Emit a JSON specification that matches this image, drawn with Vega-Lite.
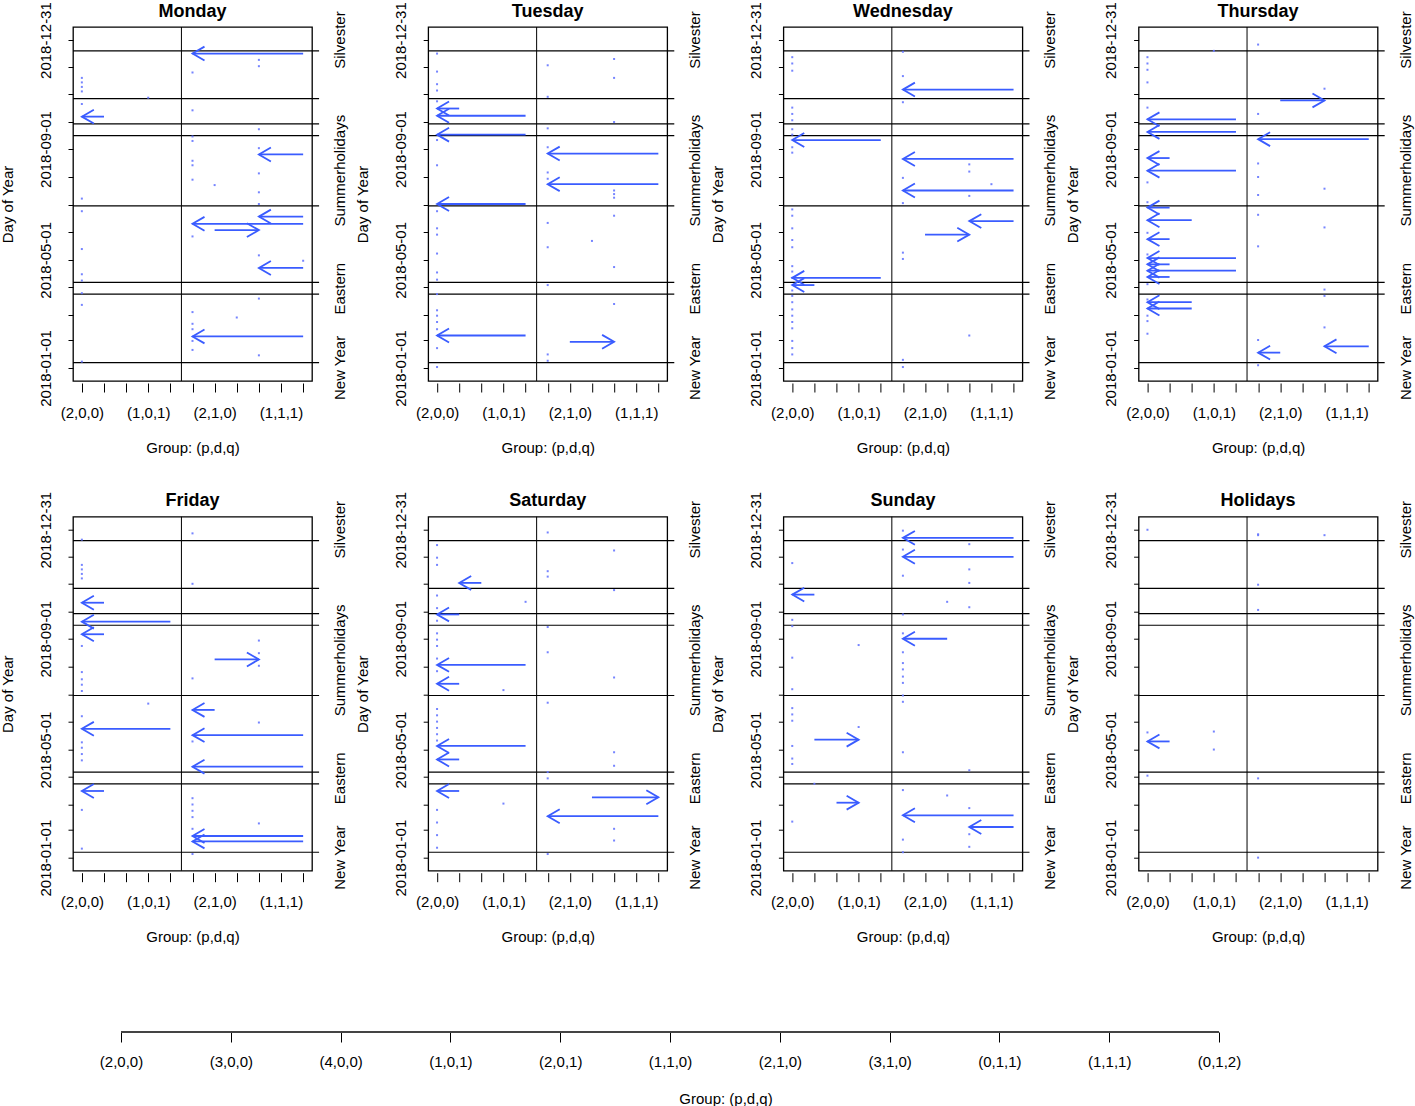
{
"$schema": "https://vega.github.io/schema/vega-lite/v6.json",
"background": "white",
"padding": {"left": -1, "top": 1, "right": 5, "bottom": 5},
"config": {
 "font": "Liberation Sans",
 "view": {"stroke": "black", "strokeWidth": 1.3},
 "axis": {"labelFontSize": 15, "titleFontSize": 15, "titleFontWeight": "normal", "labelColor": "black", "titleColor": "black", "tickColor": "black", "grid": false, "labelFont": "Liberation Sans", "titleFont": "Liberation Sans"},
 "title": {"fontSize": 18, "fontWeight": "bold", "color": "black", "font": "Liberation Sans"}
},
"datasets": {
 "holidays": [{"date":"2018-01-07"},{"date":"2018-03-24"},{"date":"2018-04-06"},{"date":"2018-06-30"},{"date":"2018-09-16"},{"date":"2018-09-29"},{"date":"2018-10-27"},{"date":"2018-12-19"}],
 "labels": [{"label":"Silvester","date":"2018-12-31"},{"label":"Summerholidays","date":"2018-08-08"},{"label":"Eastern","date":"2018-03-30"},{"label":"New Year","date":"2018-01-01"}],
 "dots": [
{"panel":"Monday","group":1,"date":"2018-11-19"},{"panel":"Monday","group":1,"date":"2018-11-14"},{"panel":"Monday","group":1,"date":"2018-11-09"},{"panel":"Monday","group":1,"date":"2018-11-04"},{"panel":"Monday","group":1,"date":"2018-10-21"},{"panel":"Monday","group":1,"date":"2018-07-08"},{"panel":"Monday","group":1,"date":"2018-06-24"},{"panel":"Monday","group":1,"date":"2018-05-13"},{"panel":"Monday","group":1,"date":"2018-04-15"},{"panel":"Monday","group":1,"date":"2018-04-08"},{"panel":"Monday","group":1,"date":"2018-03-25"},{"panel":"Monday","group":1,"date":"2018-03-12"},{"panel":"Monday","group":1,"date":"2018-01-08"},
{"panel":"Monday","group":4,"date":"2018-10-28"},
{"panel":"Monday","group":6,"date":"2018-11-25"},{"panel":"Monday","group":6,"date":"2018-10-14"},{"panel":"Monday","group":6,"date":"2018-09-15"},{"panel":"Monday","group":6,"date":"2018-09-10"},{"panel":"Monday","group":6,"date":"2018-08-19"},{"panel":"Monday","group":6,"date":"2018-08-14"},{"panel":"Monday","group":6,"date":"2018-07-29"},{"panel":"Monday","group":6,"date":"2018-05-27"},{"panel":"Monday","group":6,"date":"2018-03-04"},{"panel":"Monday","group":6,"date":"2018-02-19"},{"panel":"Monday","group":6,"date":"2018-02-13"},{"panel":"Monday","group":6,"date":"2018-01-31"},{"panel":"Monday","group":6,"date":"2018-01-21"},
{"panel":"Monday","group":7,"date":"2018-07-23"},{"panel":"Monday","group":8,"date":"2018-02-26"},
{"panel":"Monday","group":9,"date":"2018-12-09"},{"panel":"Monday","group":9,"date":"2018-12-02"},{"panel":"Monday","group":9,"date":"2018-09-23"},{"panel":"Monday","group":9,"date":"2018-09-02"},{"panel":"Monday","group":9,"date":"2018-08-05"},{"panel":"Monday","group":9,"date":"2018-07-15"},{"panel":"Monday","group":9,"date":"2018-07-02"},{"panel":"Monday","group":9,"date":"2018-05-06"},{"panel":"Monday","group":9,"date":"2018-03-19"},{"panel":"Monday","group":9,"date":"2018-01-15"},
{"panel":"Monday","group":11,"date":"2018-04-30"},
{"panel":"Tuesday","group":1,"date":"2018-12-16"},{"panel":"Tuesday","group":1,"date":"2018-11-26"},{"panel":"Tuesday","group":1,"date":"2018-11-12"},{"panel":"Tuesday","group":1,"date":"2018-11-05"},{"panel":"Tuesday","group":1,"date":"2018-10-24"},{"panel":"Tuesday","group":1,"date":"2018-09-11"},{"panel":"Tuesday","group":1,"date":"2018-08-14"},{"panel":"Tuesday","group":1,"date":"2018-06-24"},{"panel":"Tuesday","group":1,"date":"2018-06-05"},{"panel":"Tuesday","group":1,"date":"2018-05-29"},{"panel":"Tuesday","group":1,"date":"2018-05-08"},{"panel":"Tuesday","group":1,"date":"2018-04-17"},{"panel":"Tuesday","group":1,"date":"2018-04-09"},{"panel":"Tuesday","group":1,"date":"2018-03-24"},{"panel":"Tuesday","group":1,"date":"2018-03-06"},{"panel":"Tuesday","group":1,"date":"2018-02-28"},{"panel":"Tuesday","group":1,"date":"2018-02-21"},{"panel":"Tuesday","group":1,"date":"2018-02-13"},{"panel":"Tuesday","group":1,"date":"2018-01-23"},{"panel":"Tuesday","group":1,"date":"2018-01-02"},
{"panel":"Tuesday","group":6,"date":"2018-12-03"},{"panel":"Tuesday","group":6,"date":"2018-10-29"},{"panel":"Tuesday","group":6,"date":"2018-09-24"},{"panel":"Tuesday","group":6,"date":"2018-09-03"},{"panel":"Tuesday","group":6,"date":"2018-08-06"},{"panel":"Tuesday","group":6,"date":"2018-07-30"},{"panel":"Tuesday","group":6,"date":"2018-06-11"},{"panel":"Tuesday","group":6,"date":"2018-05-15"},{"panel":"Tuesday","group":6,"date":"2018-04-03"},{"panel":"Tuesday","group":6,"date":"2018-01-16"},{"panel":"Tuesday","group":6,"date":"2018-01-09"},
{"panel":"Tuesday","group":8,"date":"2018-05-22"},
{"panel":"Tuesday","group":9,"date":"2018-12-10"},{"panel":"Tuesday","group":9,"date":"2018-11-19"},{"panel":"Tuesday","group":9,"date":"2018-10-01"},{"panel":"Tuesday","group":9,"date":"2018-07-17"},{"panel":"Tuesday","group":9,"date":"2018-07-13"},{"panel":"Tuesday","group":9,"date":"2018-07-09"},{"panel":"Tuesday","group":9,"date":"2018-06-19"},{"panel":"Tuesday","group":9,"date":"2018-04-23"},{"panel":"Tuesday","group":9,"date":"2018-03-13"},
{"panel":"Wednesday","group":1,"date":"2018-12-12"},{"panel":"Wednesday","group":1,"date":"2018-12-05"},{"panel":"Wednesday","group":1,"date":"2018-11-27"},{"panel":"Wednesday","group":1,"date":"2018-10-17"},{"panel":"Wednesday","group":1,"date":"2018-10-10"},{"panel":"Wednesday","group":1,"date":"2018-10-03"},{"panel":"Wednesday","group":1,"date":"2018-09-23"},{"panel":"Wednesday","group":1,"date":"2018-09-17"},{"panel":"Wednesday","group":1,"date":"2018-09-03"},{"panel":"Wednesday","group":1,"date":"2018-08-28"},{"panel":"Wednesday","group":1,"date":"2018-06-26"},{"panel":"Wednesday","group":1,"date":"2018-06-19"},{"panel":"Wednesday","group":1,"date":"2018-06-05"},{"panel":"Wednesday","group":1,"date":"2018-05-23"},{"panel":"Wednesday","group":1,"date":"2018-05-15"},{"panel":"Wednesday","group":1,"date":"2018-04-24"},{"panel":"Wednesday","group":1,"date":"2018-04-18"},{"panel":"Wednesday","group":1,"date":"2018-04-11"},{"panel":"Wednesday","group":1,"date":"2018-03-28"},{"panel":"Wednesday","group":1,"date":"2018-03-22"},{"panel":"Wednesday","group":1,"date":"2018-03-15"},{"panel":"Wednesday","group":1,"date":"2018-03-07"},{"panel":"Wednesday","group":1,"date":"2018-02-28"},{"panel":"Wednesday","group":1,"date":"2018-02-21"},{"panel":"Wednesday","group":1,"date":"2018-02-14"},{"panel":"Wednesday","group":1,"date":"2018-01-31"},{"panel":"Wednesday","group":1,"date":"2018-01-23"},{"panel":"Wednesday","group":1,"date":"2018-01-16"},
{"panel":"Wednesday","group":6,"date":"2018-12-18"},{"panel":"Wednesday","group":6,"date":"2018-11-21"},{"panel":"Wednesday","group":6,"date":"2018-10-23"},{"panel":"Wednesday","group":6,"date":"2018-07-31"},{"panel":"Wednesday","group":6,"date":"2018-07-03"},{"panel":"Wednesday","group":6,"date":"2018-05-09"},{"panel":"Wednesday","group":6,"date":"2018-05-02"},{"panel":"Wednesday","group":6,"date":"2018-01-10"},{"panel":"Wednesday","group":6,"date":"2018-01-02"},
{"panel":"Wednesday","group":9,"date":"2018-08-15"},{"panel":"Wednesday","group":9,"date":"2018-08-07"},{"panel":"Wednesday","group":9,"date":"2018-07-11"},{"panel":"Wednesday","group":9,"date":"2018-02-06"},{"panel":"Wednesday","group":10,"date":"2018-07-24"},
{"panel":"Thursday","group":1,"date":"2018-12-12"},{"panel":"Thursday","group":1,"date":"2018-12-05"},{"panel":"Thursday","group":1,"date":"2018-11-28"},{"panel":"Thursday","group":1,"date":"2018-11-14"},{"panel":"Thursday","group":1,"date":"2018-10-17"},{"panel":"Thursday","group":1,"date":"2018-07-26"},{"panel":"Thursday","group":1,"date":"2018-07-04"},{"panel":"Thursday","group":1,"date":"2018-05-31"},{"panel":"Thursday","group":1,"date":"2018-05-07"},{"panel":"Thursday","group":1,"date":"2018-04-04"},{"panel":"Thursday","group":1,"date":"2018-03-18"},{"panel":"Thursday","group":1,"date":"2018-02-28"},{"panel":"Thursday","group":1,"date":"2018-02-22"},{"panel":"Thursday","group":1,"date":"2018-02-08"},
{"panel":"Thursday","group":4,"date":"2018-12-19"},
{"panel":"Thursday","group":6,"date":"2018-12-26"},{"panel":"Thursday","group":6,"date":"2018-10-10"},{"panel":"Thursday","group":6,"date":"2018-08-16"},{"panel":"Thursday","group":6,"date":"2018-08-01"},{"panel":"Thursday","group":6,"date":"2018-07-12"},{"panel":"Thursday","group":6,"date":"2018-06-20"},{"panel":"Thursday","group":6,"date":"2018-05-16"},{"panel":"Thursday","group":6,"date":"2018-02-01"},{"panel":"Thursday","group":6,"date":"2018-01-04"},
{"panel":"Thursday","group":9,"date":"2018-11-07"},{"panel":"Thursday","group":9,"date":"2018-07-19"},{"panel":"Thursday","group":9,"date":"2018-06-06"},{"panel":"Thursday","group":9,"date":"2018-03-29"},{"panel":"Thursday","group":9,"date":"2018-03-22"},{"panel":"Thursday","group":9,"date":"2018-02-15"},
{"panel":"Friday","group":1,"date":"2018-12-20"},{"panel":"Friday","group":1,"date":"2018-11-22"},{"panel":"Friday","group":1,"date":"2018-11-17"},{"panel":"Friday","group":1,"date":"2018-11-12"},{"panel":"Friday","group":1,"date":"2018-11-07"},{"panel":"Friday","group":1,"date":"2018-08-24"},{"panel":"Friday","group":1,"date":"2018-07-26"},{"panel":"Friday","group":1,"date":"2018-07-18"},{"panel":"Friday","group":1,"date":"2018-07-12"},{"panel":"Friday","group":1,"date":"2018-07-05"},{"panel":"Friday","group":1,"date":"2018-06-07"},{"panel":"Friday","group":1,"date":"2018-05-09"},{"panel":"Friday","group":1,"date":"2018-05-03"},{"panel":"Friday","group":1,"date":"2018-04-26"},{"panel":"Friday","group":1,"date":"2018-04-19"},{"panel":"Friday","group":1,"date":"2018-02-23"},{"panel":"Friday","group":1,"date":"2018-01-11"},
{"panel":"Friday","group":4,"date":"2018-06-21"},
{"panel":"Friday","group":6,"date":"2018-12-27"},{"panel":"Friday","group":6,"date":"2018-11-01"},{"panel":"Friday","group":6,"date":"2018-07-19"},{"panel":"Friday","group":6,"date":"2018-05-10"},{"panel":"Friday","group":6,"date":"2018-03-08"},{"panel":"Friday","group":6,"date":"2018-03-01"},{"panel":"Friday","group":6,"date":"2018-02-22"},{"panel":"Friday","group":6,"date":"2018-02-15"},{"panel":"Friday","group":6,"date":"2018-02-02"},{"panel":"Friday","group":6,"date":"2018-01-05"},
{"panel":"Friday","group":9,"date":"2018-08-30"},{"panel":"Friday","group":9,"date":"2018-08-16"},{"panel":"Friday","group":9,"date":"2018-08-02"},{"panel":"Friday","group":9,"date":"2018-05-31"},{"panel":"Friday","group":9,"date":"2018-02-08"},
{"panel":"Saturday","group":1,"date":"2018-12-14"},{"panel":"Saturday","group":1,"date":"2018-11-30"},{"panel":"Saturday","group":1,"date":"2018-11-22"},{"panel":"Saturday","group":1,"date":"2018-10-19"},{"panel":"Saturday","group":1,"date":"2018-10-05"},{"panel":"Saturday","group":1,"date":"2018-09-21"},{"panel":"Saturday","group":1,"date":"2018-09-07"},{"panel":"Saturday","group":1,"date":"2018-08-31"},{"panel":"Saturday","group":1,"date":"2018-08-24"},{"panel":"Saturday","group":1,"date":"2018-08-10"},{"panel":"Saturday","group":1,"date":"2018-07-27"},{"panel":"Saturday","group":1,"date":"2018-06-15"},{"panel":"Saturday","group":1,"date":"2018-06-08"},{"panel":"Saturday","group":1,"date":"2018-06-01"},{"panel":"Saturday","group":1,"date":"2018-05-25"},{"panel":"Saturday","group":1,"date":"2018-05-18"},{"panel":"Saturday","group":1,"date":"2018-05-11"},{"panel":"Saturday","group":1,"date":"2018-02-23"},{"panel":"Saturday","group":1,"date":"2018-02-09"},{"panel":"Saturday","group":1,"date":"2018-01-26"},{"panel":"Saturday","group":1,"date":"2018-01-12"},
{"panel":"Saturday","group":4,"date":"2018-07-06"},{"panel":"Saturday","group":4,"date":"2018-03-02"},{"panel":"Saturday","group":5,"date":"2018-10-12"},
{"panel":"Saturday","group":6,"date":"2018-12-28"},{"panel":"Saturday","group":6,"date":"2018-11-15"},{"panel":"Saturday","group":6,"date":"2018-11-09"},{"panel":"Saturday","group":6,"date":"2018-09-14"},{"panel":"Saturday","group":6,"date":"2018-08-17"},{"panel":"Saturday","group":6,"date":"2018-06-22"},{"panel":"Saturday","group":6,"date":"2018-04-06"},{"panel":"Saturday","group":6,"date":"2018-03-30"},{"panel":"Saturday","group":6,"date":"2018-01-05"},
{"panel":"Saturday","group":9,"date":"2018-12-08"},{"panel":"Saturday","group":9,"date":"2018-10-25"},{"panel":"Saturday","group":9,"date":"2018-07-20"},{"panel":"Saturday","group":9,"date":"2018-04-28"},{"panel":"Saturday","group":9,"date":"2018-04-13"},{"panel":"Saturday","group":9,"date":"2018-02-02"},{"panel":"Saturday","group":9,"date":"2018-01-20"},
{"panel":"Sunday","group":1,"date":"2018-11-24"},{"panel":"Sunday","group":1,"date":"2018-09-22"},{"panel":"Sunday","group":1,"date":"2018-09-15"},{"panel":"Sunday","group":1,"date":"2018-08-11"},{"panel":"Sunday","group":1,"date":"2018-07-07"},{"panel":"Sunday","group":1,"date":"2018-06-16"},{"panel":"Sunday","group":1,"date":"2018-06-09"},{"panel":"Sunday","group":1,"date":"2018-06-02"},{"panel":"Sunday","group":1,"date":"2018-05-05"},{"panel":"Sunday","group":1,"date":"2018-04-21"},{"panel":"Sunday","group":1,"date":"2018-04-15"},{"panel":"Sunday","group":1,"date":"2018-02-10"},
{"panel":"Sunday","group":2,"date":"2018-03-24"},{"panel":"Sunday","group":4,"date":"2018-08-25"},{"panel":"Sunday","group":4,"date":"2018-05-26"},
{"panel":"Sunday","group":6,"date":"2018-12-30"},{"panel":"Sunday","group":6,"date":"2018-12-09"},{"panel":"Sunday","group":6,"date":"2018-11-10"},{"panel":"Sunday","group":6,"date":"2018-09-28"},{"panel":"Sunday","group":6,"date":"2018-09-07"},{"panel":"Sunday","group":6,"date":"2018-08-17"},{"panel":"Sunday","group":6,"date":"2018-08-05"},{"panel":"Sunday","group":6,"date":"2018-07-29"},{"panel":"Sunday","group":6,"date":"2018-07-21"},{"panel":"Sunday","group":6,"date":"2018-07-14"},{"panel":"Sunday","group":6,"date":"2018-06-30"},{"panel":"Sunday","group":6,"date":"2018-06-23"},{"panel":"Sunday","group":6,"date":"2018-04-28"},{"panel":"Sunday","group":6,"date":"2018-03-17"},{"panel":"Sunday","group":6,"date":"2018-01-21"},{"panel":"Sunday","group":6,"date":"2018-01-07"},
{"panel":"Sunday","group":8,"date":"2018-10-12"},{"panel":"Sunday","group":8,"date":"2018-03-11"},
{"panel":"Sunday","group":9,"date":"2018-12-15"},{"panel":"Sunday","group":9,"date":"2018-11-17"},{"panel":"Sunday","group":9,"date":"2018-11-02"},{"panel":"Sunday","group":9,"date":"2018-10-06"},{"panel":"Sunday","group":9,"date":"2018-04-08"},{"panel":"Sunday","group":9,"date":"2018-02-25"},{"panel":"Sunday","group":9,"date":"2018-01-27"},{"panel":"Sunday","group":9,"date":"2018-01-13"},
{"panel":"Holidays","group":1,"date":"2018-12-31"},{"panel":"Holidays","group":1,"date":"2018-05-20"},{"panel":"Holidays","group":1,"date":"2018-04-02"},
{"panel":"Holidays","group":4,"date":"2018-05-21"},{"panel":"Holidays","group":4,"date":"2018-05-01"},
{"panel":"Holidays","group":6,"date":"2018-12-25"},{"panel":"Holidays","group":6,"date":"2018-12-26"},{"panel":"Holidays","group":6,"date":"2018-10-31"},{"panel":"Holidays","group":6,"date":"2018-10-03"},{"panel":"Holidays","group":6,"date":"2018-03-30"},{"panel":"Holidays","group":6,"date":"2018-01-01"},
{"panel":"Holidays","group":9,"date":"2018-12-25"}
 ],
 "arrows": [
{"panel":"Monday","date":"2018-12-16","from":11,"to":6},{"panel":"Monday","date":"2018-10-07","from":2,"to":1},{"panel":"Monday","date":"2018-08-26","from":11,"to":9},{"panel":"Monday","date":"2018-06-18","from":11,"to":9},{"panel":"Monday","date":"2018-06-10","from":11,"to":6},{"panel":"Monday","date":"2018-06-03","from":7,"to":9},{"panel":"Monday","date":"2018-04-22","from":11,"to":9},{"panel":"Monday","date":"2018-02-05","from":11,"to":6},
{"panel":"Tuesday","date":"2018-10-16","from":2,"to":1},{"panel":"Tuesday","date":"2018-10-08","from":5,"to":1},{"panel":"Tuesday","date":"2018-09-17","from":5,"to":1},{"panel":"Tuesday","date":"2018-08-27","from":11,"to":6},{"panel":"Tuesday","date":"2018-07-24","from":11,"to":6},{"panel":"Tuesday","date":"2018-07-02","from":5,"to":1},{"panel":"Tuesday","date":"2018-02-06","from":5,"to":1},{"panel":"Tuesday","date":"2018-01-30","from":7,"to":9},
{"panel":"Wednesday","date":"2018-11-06","from":11,"to":6},{"panel":"Wednesday","date":"2018-09-11","from":5,"to":1},{"panel":"Wednesday","date":"2018-08-21","from":11,"to":6},{"panel":"Wednesday","date":"2018-07-17","from":11,"to":6},{"panel":"Wednesday","date":"2018-06-13","from":11,"to":9},{"panel":"Wednesday","date":"2018-05-29","from":7,"to":9},{"panel":"Wednesday","date":"2018-04-11","from":5,"to":1},{"panel":"Wednesday","date":"2018-04-03","from":2,"to":1},
{"panel":"Thursday","date":"2018-10-25","from":7,"to":9},{"panel":"Thursday","date":"2018-10-04","from":5,"to":1},{"panel":"Thursday","date":"2018-09-20","from":5,"to":1},{"panel":"Thursday","date":"2018-09-12","from":11,"to":6},{"panel":"Thursday","date":"2018-08-22","from":2,"to":1},{"panel":"Thursday","date":"2018-08-08","from":5,"to":1},{"panel":"Thursday","date":"2018-06-28","from":2,"to":1},{"panel":"Thursday","date":"2018-06-14","from":3,"to":1},{"panel":"Thursday","date":"2018-05-24","from":2,"to":1},{"panel":"Thursday","date":"2018-05-03","from":5,"to":1},{"panel":"Thursday","date":"2018-04-26","from":2,"to":1},{"panel":"Thursday","date":"2018-04-19","from":5,"to":1},{"panel":"Thursday","date":"2018-04-12","from":2,"to":1},{"panel":"Thursday","date":"2018-03-15","from":3,"to":1},{"panel":"Thursday","date":"2018-03-08","from":3,"to":1},{"panel":"Thursday","date":"2018-01-25","from":11,"to":9},{"panel":"Thursday","date":"2018-01-18","from":7,"to":6},
{"panel":"Friday","date":"2018-10-11","from":2,"to":1},{"panel":"Friday","date":"2018-09-20","from":5,"to":1},{"panel":"Friday","date":"2018-09-06","from":2,"to":1},{"panel":"Friday","date":"2018-08-09","from":7,"to":9},{"panel":"Friday","date":"2018-06-14","from":7,"to":6},{"panel":"Friday","date":"2018-05-24","from":5,"to":1},{"panel":"Friday","date":"2018-05-17","from":11,"to":6},{"panel":"Friday","date":"2018-04-12","from":11,"to":6},{"panel":"Friday","date":"2018-03-16","from":2,"to":1},{"panel":"Friday","date":"2018-01-25","from":11,"to":6},{"panel":"Friday","date":"2018-01-19","from":11,"to":6},
{"panel":"Saturday","date":"2018-11-02","from":3,"to":2},{"panel":"Saturday","date":"2018-09-28","from":2,"to":1},{"panel":"Saturday","date":"2018-08-03","from":5,"to":1},{"panel":"Saturday","date":"2018-07-13","from":2,"to":1},{"panel":"Saturday","date":"2018-05-05","from":5,"to":1},{"panel":"Saturday","date":"2018-04-20","from":2,"to":1},{"panel":"Saturday","date":"2018-03-16","from":2,"to":1},{"panel":"Saturday","date":"2018-03-09","from":8,"to":11},{"panel":"Saturday","date":"2018-02-16","from":11,"to":6},
{"panel":"Sunday","date":"2018-12-22","from":11,"to":6},{"panel":"Sunday","date":"2018-12-01","from":11,"to":6},{"panel":"Sunday","date":"2018-10-20","from":2,"to":1},{"panel":"Sunday","date":"2018-09-01","from":8,"to":6},{"panel":"Sunday","date":"2018-05-12","from":2,"to":4},{"panel":"Sunday","date":"2018-03-03","from":3,"to":4},{"panel":"Sunday","date":"2018-02-17","from":11,"to":6},{"panel":"Sunday","date":"2018-02-04","from":11,"to":9},
{"panel":"Holidays","date":"2018-05-10","from":2,"to":1}
 ]
},
"vconcat": [
{
"columns": 4,
"spacing": {"row": 135.7, "column": 116.2},
"bounds": "flush",
"concat": [
{"width": 239, "height": 354, "title": {"text": "Monday", "frame": "group", "baseline": "bottom", "offset": -37},
 "layer": [
  {"data": {"name": "holidays"}, "mark": {"type": "rule", "color": "black", "strokeWidth": 1.2},
   "encoding": {"x": {"datum": 0.6, "type": "quantitative", "scale": {"domain": [0.6, 11.4], "nice": false, "zero": false},
      "axis": {"values": [1,2,3,4,5,6,7,8,9,10,11], "tickCount": 20, "labelExpr": "datum.value==1?'(2,0,0)':datum.value==4?'(1,0,1)':datum.value==7?'(2,1,0)':datum.value==10?'(1,1,1)':''", "title": "Group: (p,d,q)", "domain": false, "tickSize": 9, "offset": 2, "labelPadding": 13, "titlePadding": 20, "labelOverlap": false, "labelFlush": false}},
    "x2": {"datum": 11.72},
    "y": {"field": "date", "type": "temporal", "scale": {"type": "utc", "domain": [{"year": 2017, "month": 12, "date": 17, "hours": 12, "utc": true}, {"year": 2019, "month": 1, "date": 14, "hours": 12, "utc": true}]},
      "axis": {"values": [{"year":2018,"month":1,"date":1,"utc":true},{"year":2018,"month":2,"date":1,"utc":true},{"year":2018,"month":3,"date":1,"utc":true},{"year":2018,"month":4,"date":1,"utc":true},{"year":2018,"month":5,"date":1,"utc":true},{"year":2018,"month":6,"date":1,"utc":true},{"year":2018,"month":7,"date":1,"utc":true},{"year":2018,"month":8,"date":1,"utc":true},{"year":2018,"month":9,"date":1,"utc":true},{"year":2018,"month":10,"date":1,"utc":true},{"year":2018,"month":11,"date":1,"utc":true},{"year":2018,"month":12,"date":1,"utc":true},{"year":2018,"month":12,"date":31,"utc":true}], "tickCount": 40, "labelExpr": "(utcdate(datum.value)==1 && (utcmonth(datum.value)==0 || utcmonth(datum.value)==4 || utcmonth(datum.value)==8)) || utcdate(datum.value)==31 ? utcFormat(datum.value, '%Y-%m-%d') : ''", "labelAngle": 270, "labelAlign": "center", "labelBaseline": "bottom", "tickSize": 5, "labelPadding": 15, "domain": false, "title": "Day of Year", "titlePadding": 23, "labelOverlap": false, "labelFlush": false}}}},
  {"data": {"values": [{}]}, "mark": {"type": "rule", "color": "black", "strokeWidth": 1}, "encoding": {"x": {"datum": 5.5, "type": "quantitative"}}},
  {"data": {"name": "labels"}, "mark": {"type": "text", "angle": 270, "align": "center", "baseline": "top", "fontSize": 15, "color": "black", "font": "Liberation Sans"},
   "encoding": {"x": {"datum": 12.35, "type": "quantitative"}, "y": {"field": "date", "type": "temporal"}, "text": {"field": "label"}}},
  {"data": {"name": "dots"}, "transform": [{"filter": "datum.panel == 'Monday'"}], "mark": {"type": "square", "size": 4, "color": "#6677ff", "opacity": 0.9},
   "encoding": {"x": {"field": "group", "type": "quantitative"}, "y": {"field": "date", "type": "temporal"}}},
  {"data": {"name": "arrows"}, "transform": [{"filter": "datum.panel == 'Monday'"}], "mark": {"type": "rule", "color": "#3a5cff", "strokeWidth": 1.8},
   "encoding": {"x": {"field": "from", "type": "quantitative"}, "x2": {"field": "to"}, "y": {"field": "date", "type": "temporal"}}},
  {"data": {"name": "arrows"}, "transform": [{"filter": "datum.panel == 'Monday'"}], "mark": {"type": "point", "filled": false, "size": 576, "strokeWidth": 1.8, "color": "#3a5cff", "opacity": 1},
   "encoding": {"x": {"field": "to", "type": "quantitative"}, "y": {"field": "date", "type": "temporal"}, "shape": {"condition": {"test": "datum.to < datum.from", "value": "M 1 -0.58 L 0 0 L 1 0.58"}, "value": "M -1 -0.58 L 0 0 L -1 0.58"}}}
 ]},
{"width": 239, "height": 354, "title": {"text": "Tuesday", "frame": "group", "baseline": "bottom", "offset": -37},
 "layer": [
  {"data": {"name": "holidays"}, "mark": {"type": "rule", "color": "black", "strokeWidth": 1.2},
   "encoding": {"x": {"datum": 0.6, "type": "quantitative", "scale": {"domain": [0.6, 11.4], "nice": false, "zero": false},
      "axis": {"values": [1,2,3,4,5,6,7,8,9,10,11], "tickCount": 20, "labelExpr": "datum.value==1?'(2,0,0)':datum.value==4?'(1,0,1)':datum.value==7?'(2,1,0)':datum.value==10?'(1,1,1)':''", "title": "Group: (p,d,q)", "domain": false, "tickSize": 9, "offset": 2, "labelPadding": 13, "titlePadding": 20, "labelOverlap": false, "labelFlush": false}},
    "x2": {"datum": 11.72},
    "y": {"field": "date", "type": "temporal", "scale": {"type": "utc", "domain": [{"year": 2017, "month": 12, "date": 17, "hours": 12, "utc": true}, {"year": 2019, "month": 1, "date": 14, "hours": 12, "utc": true}]},
      "axis": {"values": [{"year":2018,"month":1,"date":1,"utc":true},{"year":2018,"month":2,"date":1,"utc":true},{"year":2018,"month":3,"date":1,"utc":true},{"year":2018,"month":4,"date":1,"utc":true},{"year":2018,"month":5,"date":1,"utc":true},{"year":2018,"month":6,"date":1,"utc":true},{"year":2018,"month":7,"date":1,"utc":true},{"year":2018,"month":8,"date":1,"utc":true},{"year":2018,"month":9,"date":1,"utc":true},{"year":2018,"month":10,"date":1,"utc":true},{"year":2018,"month":11,"date":1,"utc":true},{"year":2018,"month":12,"date":1,"utc":true},{"year":2018,"month":12,"date":31,"utc":true}], "tickCount": 40, "labelExpr": "(utcdate(datum.value)==1 && (utcmonth(datum.value)==0 || utcmonth(datum.value)==4 || utcmonth(datum.value)==8)) || utcdate(datum.value)==31 ? utcFormat(datum.value, '%Y-%m-%d') : ''", "labelAngle": 270, "labelAlign": "center", "labelBaseline": "bottom", "tickSize": 5, "labelPadding": 15, "domain": false, "title": "Day of Year", "titlePadding": 23, "labelOverlap": false, "labelFlush": false}}}},
  {"data": {"values": [{}]}, "mark": {"type": "rule", "color": "black", "strokeWidth": 1}, "encoding": {"x": {"datum": 5.5, "type": "quantitative"}}},
  {"data": {"name": "labels"}, "mark": {"type": "text", "angle": 270, "align": "center", "baseline": "top", "fontSize": 15, "color": "black", "font": "Liberation Sans"},
   "encoding": {"x": {"datum": 12.35, "type": "quantitative"}, "y": {"field": "date", "type": "temporal"}, "text": {"field": "label"}}},
  {"data": {"name": "dots"}, "transform": [{"filter": "datum.panel == 'Tuesday'"}], "mark": {"type": "square", "size": 4, "color": "#6677ff", "opacity": 0.9},
   "encoding": {"x": {"field": "group", "type": "quantitative"}, "y": {"field": "date", "type": "temporal"}}},
  {"data": {"name": "arrows"}, "transform": [{"filter": "datum.panel == 'Tuesday'"}], "mark": {"type": "rule", "color": "#3a5cff", "strokeWidth": 1.8},
   "encoding": {"x": {"field": "from", "type": "quantitative"}, "x2": {"field": "to"}, "y": {"field": "date", "type": "temporal"}}},
  {"data": {"name": "arrows"}, "transform": [{"filter": "datum.panel == 'Tuesday'"}], "mark": {"type": "point", "filled": false, "size": 576, "strokeWidth": 1.8, "color": "#3a5cff", "opacity": 1},
   "encoding": {"x": {"field": "to", "type": "quantitative"}, "y": {"field": "date", "type": "temporal"}, "shape": {"condition": {"test": "datum.to < datum.from", "value": "M 1 -0.58 L 0 0 L 1 0.58"}, "value": "M -1 -0.58 L 0 0 L -1 0.58"}}}
 ]},
{"width": 239, "height": 354, "title": {"text": "Wednesday", "frame": "group", "baseline": "bottom", "offset": -37},
 "layer": [
  {"data": {"name": "holidays"}, "mark": {"type": "rule", "color": "black", "strokeWidth": 1.2},
   "encoding": {"x": {"datum": 0.6, "type": "quantitative", "scale": {"domain": [0.6, 11.4], "nice": false, "zero": false},
      "axis": {"values": [1,2,3,4,5,6,7,8,9,10,11], "tickCount": 20, "labelExpr": "datum.value==1?'(2,0,0)':datum.value==4?'(1,0,1)':datum.value==7?'(2,1,0)':datum.value==10?'(1,1,1)':''", "title": "Group: (p,d,q)", "domain": false, "tickSize": 9, "offset": 2, "labelPadding": 13, "titlePadding": 20, "labelOverlap": false, "labelFlush": false}},
    "x2": {"datum": 11.72},
    "y": {"field": "date", "type": "temporal", "scale": {"type": "utc", "domain": [{"year": 2017, "month": 12, "date": 17, "hours": 12, "utc": true}, {"year": 2019, "month": 1, "date": 14, "hours": 12, "utc": true}]},
      "axis": {"values": [{"year":2018,"month":1,"date":1,"utc":true},{"year":2018,"month":2,"date":1,"utc":true},{"year":2018,"month":3,"date":1,"utc":true},{"year":2018,"month":4,"date":1,"utc":true},{"year":2018,"month":5,"date":1,"utc":true},{"year":2018,"month":6,"date":1,"utc":true},{"year":2018,"month":7,"date":1,"utc":true},{"year":2018,"month":8,"date":1,"utc":true},{"year":2018,"month":9,"date":1,"utc":true},{"year":2018,"month":10,"date":1,"utc":true},{"year":2018,"month":11,"date":1,"utc":true},{"year":2018,"month":12,"date":1,"utc":true},{"year":2018,"month":12,"date":31,"utc":true}], "tickCount": 40, "labelExpr": "(utcdate(datum.value)==1 && (utcmonth(datum.value)==0 || utcmonth(datum.value)==4 || utcmonth(datum.value)==8)) || utcdate(datum.value)==31 ? utcFormat(datum.value, '%Y-%m-%d') : ''", "labelAngle": 270, "labelAlign": "center", "labelBaseline": "bottom", "tickSize": 5, "labelPadding": 15, "domain": false, "title": "Day of Year", "titlePadding": 23, "labelOverlap": false, "labelFlush": false}}}},
  {"data": {"values": [{}]}, "mark": {"type": "rule", "color": "black", "strokeWidth": 1}, "encoding": {"x": {"datum": 5.5, "type": "quantitative"}}},
  {"data": {"name": "labels"}, "mark": {"type": "text", "angle": 270, "align": "center", "baseline": "top", "fontSize": 15, "color": "black", "font": "Liberation Sans"},
   "encoding": {"x": {"datum": 12.35, "type": "quantitative"}, "y": {"field": "date", "type": "temporal"}, "text": {"field": "label"}}},
  {"data": {"name": "dots"}, "transform": [{"filter": "datum.panel == 'Wednesday'"}], "mark": {"type": "square", "size": 4, "color": "#6677ff", "opacity": 0.9},
   "encoding": {"x": {"field": "group", "type": "quantitative"}, "y": {"field": "date", "type": "temporal"}}},
  {"data": {"name": "arrows"}, "transform": [{"filter": "datum.panel == 'Wednesday'"}], "mark": {"type": "rule", "color": "#3a5cff", "strokeWidth": 1.8},
   "encoding": {"x": {"field": "from", "type": "quantitative"}, "x2": {"field": "to"}, "y": {"field": "date", "type": "temporal"}}},
  {"data": {"name": "arrows"}, "transform": [{"filter": "datum.panel == 'Wednesday'"}], "mark": {"type": "point", "filled": false, "size": 576, "strokeWidth": 1.8, "color": "#3a5cff", "opacity": 1},
   "encoding": {"x": {"field": "to", "type": "quantitative"}, "y": {"field": "date", "type": "temporal"}, "shape": {"condition": {"test": "datum.to < datum.from", "value": "M 1 -0.58 L 0 0 L 1 0.58"}, "value": "M -1 -0.58 L 0 0 L -1 0.58"}}}
 ]},
{"width": 239, "height": 354, "title": {"text": "Thursday", "frame": "group", "baseline": "bottom", "offset": -37},
 "layer": [
  {"data": {"name": "holidays"}, "mark": {"type": "rule", "color": "black", "strokeWidth": 1.2},
   "encoding": {"x": {"datum": 0.6, "type": "quantitative", "scale": {"domain": [0.6, 11.4], "nice": false, "zero": false},
      "axis": {"values": [1,2,3,4,5,6,7,8,9,10,11], "tickCount": 20, "labelExpr": "datum.value==1?'(2,0,0)':datum.value==4?'(1,0,1)':datum.value==7?'(2,1,0)':datum.value==10?'(1,1,1)':''", "title": "Group: (p,d,q)", "domain": false, "tickSize": 9, "offset": 2, "labelPadding": 13, "titlePadding": 20, "labelOverlap": false, "labelFlush": false}},
    "x2": {"datum": 11.72},
    "y": {"field": "date", "type": "temporal", "scale": {"type": "utc", "domain": [{"year": 2017, "month": 12, "date": 17, "hours": 12, "utc": true}, {"year": 2019, "month": 1, "date": 14, "hours": 12, "utc": true}]},
      "axis": {"values": [{"year":2018,"month":1,"date":1,"utc":true},{"year":2018,"month":2,"date":1,"utc":true},{"year":2018,"month":3,"date":1,"utc":true},{"year":2018,"month":4,"date":1,"utc":true},{"year":2018,"month":5,"date":1,"utc":true},{"year":2018,"month":6,"date":1,"utc":true},{"year":2018,"month":7,"date":1,"utc":true},{"year":2018,"month":8,"date":1,"utc":true},{"year":2018,"month":9,"date":1,"utc":true},{"year":2018,"month":10,"date":1,"utc":true},{"year":2018,"month":11,"date":1,"utc":true},{"year":2018,"month":12,"date":1,"utc":true},{"year":2018,"month":12,"date":31,"utc":true}], "tickCount": 40, "labelExpr": "(utcdate(datum.value)==1 && (utcmonth(datum.value)==0 || utcmonth(datum.value)==4 || utcmonth(datum.value)==8)) || utcdate(datum.value)==31 ? utcFormat(datum.value, '%Y-%m-%d') : ''", "labelAngle": 270, "labelAlign": "center", "labelBaseline": "bottom", "tickSize": 5, "labelPadding": 15, "domain": false, "title": "Day of Year", "titlePadding": 23, "labelOverlap": false, "labelFlush": false}}}},
  {"data": {"values": [{}]}, "mark": {"type": "rule", "color": "black", "strokeWidth": 1}, "encoding": {"x": {"datum": 5.5, "type": "quantitative"}}},
  {"data": {"name": "labels"}, "mark": {"type": "text", "angle": 270, "align": "center", "baseline": "top", "fontSize": 15, "color": "black", "font": "Liberation Sans"},
   "encoding": {"x": {"datum": 12.35, "type": "quantitative"}, "y": {"field": "date", "type": "temporal"}, "text": {"field": "label"}}},
  {"data": {"name": "dots"}, "transform": [{"filter": "datum.panel == 'Thursday'"}], "mark": {"type": "square", "size": 4, "color": "#6677ff", "opacity": 0.9},
   "encoding": {"x": {"field": "group", "type": "quantitative"}, "y": {"field": "date", "type": "temporal"}}},
  {"data": {"name": "arrows"}, "transform": [{"filter": "datum.panel == 'Thursday'"}], "mark": {"type": "rule", "color": "#3a5cff", "strokeWidth": 1.8},
   "encoding": {"x": {"field": "from", "type": "quantitative"}, "x2": {"field": "to"}, "y": {"field": "date", "type": "temporal"}}},
  {"data": {"name": "arrows"}, "transform": [{"filter": "datum.panel == 'Thursday'"}], "mark": {"type": "point", "filled": false, "size": 576, "strokeWidth": 1.8, "color": "#3a5cff", "opacity": 1},
   "encoding": {"x": {"field": "to", "type": "quantitative"}, "y": {"field": "date", "type": "temporal"}, "shape": {"condition": {"test": "datum.to < datum.from", "value": "M 1 -0.58 L 0 0 L 1 0.58"}, "value": "M -1 -0.58 L 0 0 L -1 0.58"}}}
 ]},
{"width": 239, "height": 354, "title": {"text": "Friday", "frame": "group", "baseline": "bottom", "offset": -37},
 "layer": [
  {"data": {"name": "holidays"}, "mark": {"type": "rule", "color": "black", "strokeWidth": 1.2},
   "encoding": {"x": {"datum": 0.6, "type": "quantitative", "scale": {"domain": [0.6, 11.4], "nice": false, "zero": false},
      "axis": {"values": [1,2,3,4,5,6,7,8,9,10,11], "tickCount": 20, "labelExpr": "datum.value==1?'(2,0,0)':datum.value==4?'(1,0,1)':datum.value==7?'(2,1,0)':datum.value==10?'(1,1,1)':''", "title": "Group: (p,d,q)", "domain": false, "tickSize": 9, "offset": 2, "labelPadding": 13, "titlePadding": 20, "labelOverlap": false, "labelFlush": false}},
    "x2": {"datum": 11.72},
    "y": {"field": "date", "type": "temporal", "scale": {"type": "utc", "domain": [{"year": 2017, "month": 12, "date": 17, "hours": 12, "utc": true}, {"year": 2019, "month": 1, "date": 14, "hours": 12, "utc": true}]},
      "axis": {"values": [{"year":2018,"month":1,"date":1,"utc":true},{"year":2018,"month":2,"date":1,"utc":true},{"year":2018,"month":3,"date":1,"utc":true},{"year":2018,"month":4,"date":1,"utc":true},{"year":2018,"month":5,"date":1,"utc":true},{"year":2018,"month":6,"date":1,"utc":true},{"year":2018,"month":7,"date":1,"utc":true},{"year":2018,"month":8,"date":1,"utc":true},{"year":2018,"month":9,"date":1,"utc":true},{"year":2018,"month":10,"date":1,"utc":true},{"year":2018,"month":11,"date":1,"utc":true},{"year":2018,"month":12,"date":1,"utc":true},{"year":2018,"month":12,"date":31,"utc":true}], "tickCount": 40, "labelExpr": "(utcdate(datum.value)==1 && (utcmonth(datum.value)==0 || utcmonth(datum.value)==4 || utcmonth(datum.value)==8)) || utcdate(datum.value)==31 ? utcFormat(datum.value, '%Y-%m-%d') : ''", "labelAngle": 270, "labelAlign": "center", "labelBaseline": "bottom", "tickSize": 5, "labelPadding": 15, "domain": false, "title": "Day of Year", "titlePadding": 23, "labelOverlap": false, "labelFlush": false}}}},
  {"data": {"values": [{}]}, "mark": {"type": "rule", "color": "black", "strokeWidth": 1}, "encoding": {"x": {"datum": 5.5, "type": "quantitative"}}},
  {"data": {"name": "labels"}, "mark": {"type": "text", "angle": 270, "align": "center", "baseline": "top", "fontSize": 15, "color": "black", "font": "Liberation Sans"},
   "encoding": {"x": {"datum": 12.35, "type": "quantitative"}, "y": {"field": "date", "type": "temporal"}, "text": {"field": "label"}}},
  {"data": {"name": "dots"}, "transform": [{"filter": "datum.panel == 'Friday'"}], "mark": {"type": "square", "size": 4, "color": "#6677ff", "opacity": 0.9},
   "encoding": {"x": {"field": "group", "type": "quantitative"}, "y": {"field": "date", "type": "temporal"}}},
  {"data": {"name": "arrows"}, "transform": [{"filter": "datum.panel == 'Friday'"}], "mark": {"type": "rule", "color": "#3a5cff", "strokeWidth": 1.8},
   "encoding": {"x": {"field": "from", "type": "quantitative"}, "x2": {"field": "to"}, "y": {"field": "date", "type": "temporal"}}},
  {"data": {"name": "arrows"}, "transform": [{"filter": "datum.panel == 'Friday'"}], "mark": {"type": "point", "filled": false, "size": 576, "strokeWidth": 1.8, "color": "#3a5cff", "opacity": 1},
   "encoding": {"x": {"field": "to", "type": "quantitative"}, "y": {"field": "date", "type": "temporal"}, "shape": {"condition": {"test": "datum.to < datum.from", "value": "M 1 -0.58 L 0 0 L 1 0.58"}, "value": "M -1 -0.58 L 0 0 L -1 0.58"}}}
 ]},
{"width": 239, "height": 354, "title": {"text": "Saturday", "frame": "group", "baseline": "bottom", "offset": -37},
 "layer": [
  {"data": {"name": "holidays"}, "mark": {"type": "rule", "color": "black", "strokeWidth": 1.2},
   "encoding": {"x": {"datum": 0.6, "type": "quantitative", "scale": {"domain": [0.6, 11.4], "nice": false, "zero": false},
      "axis": {"values": [1,2,3,4,5,6,7,8,9,10,11], "tickCount": 20, "labelExpr": "datum.value==1?'(2,0,0)':datum.value==4?'(1,0,1)':datum.value==7?'(2,1,0)':datum.value==10?'(1,1,1)':''", "title": "Group: (p,d,q)", "domain": false, "tickSize": 9, "offset": 2, "labelPadding": 13, "titlePadding": 20, "labelOverlap": false, "labelFlush": false}},
    "x2": {"datum": 11.72},
    "y": {"field": "date", "type": "temporal", "scale": {"type": "utc", "domain": [{"year": 2017, "month": 12, "date": 17, "hours": 12, "utc": true}, {"year": 2019, "month": 1, "date": 14, "hours": 12, "utc": true}]},
      "axis": {"values": [{"year":2018,"month":1,"date":1,"utc":true},{"year":2018,"month":2,"date":1,"utc":true},{"year":2018,"month":3,"date":1,"utc":true},{"year":2018,"month":4,"date":1,"utc":true},{"year":2018,"month":5,"date":1,"utc":true},{"year":2018,"month":6,"date":1,"utc":true},{"year":2018,"month":7,"date":1,"utc":true},{"year":2018,"month":8,"date":1,"utc":true},{"year":2018,"month":9,"date":1,"utc":true},{"year":2018,"month":10,"date":1,"utc":true},{"year":2018,"month":11,"date":1,"utc":true},{"year":2018,"month":12,"date":1,"utc":true},{"year":2018,"month":12,"date":31,"utc":true}], "tickCount": 40, "labelExpr": "(utcdate(datum.value)==1 && (utcmonth(datum.value)==0 || utcmonth(datum.value)==4 || utcmonth(datum.value)==8)) || utcdate(datum.value)==31 ? utcFormat(datum.value, '%Y-%m-%d') : ''", "labelAngle": 270, "labelAlign": "center", "labelBaseline": "bottom", "tickSize": 5, "labelPadding": 15, "domain": false, "title": "Day of Year", "titlePadding": 23, "labelOverlap": false, "labelFlush": false}}}},
  {"data": {"values": [{}]}, "mark": {"type": "rule", "color": "black", "strokeWidth": 1}, "encoding": {"x": {"datum": 5.5, "type": "quantitative"}}},
  {"data": {"name": "labels"}, "mark": {"type": "text", "angle": 270, "align": "center", "baseline": "top", "fontSize": 15, "color": "black", "font": "Liberation Sans"},
   "encoding": {"x": {"datum": 12.35, "type": "quantitative"}, "y": {"field": "date", "type": "temporal"}, "text": {"field": "label"}}},
  {"data": {"name": "dots"}, "transform": [{"filter": "datum.panel == 'Saturday'"}], "mark": {"type": "square", "size": 4, "color": "#6677ff", "opacity": 0.9},
   "encoding": {"x": {"field": "group", "type": "quantitative"}, "y": {"field": "date", "type": "temporal"}}},
  {"data": {"name": "arrows"}, "transform": [{"filter": "datum.panel == 'Saturday'"}], "mark": {"type": "rule", "color": "#3a5cff", "strokeWidth": 1.8},
   "encoding": {"x": {"field": "from", "type": "quantitative"}, "x2": {"field": "to"}, "y": {"field": "date", "type": "temporal"}}},
  {"data": {"name": "arrows"}, "transform": [{"filter": "datum.panel == 'Saturday'"}], "mark": {"type": "point", "filled": false, "size": 576, "strokeWidth": 1.8, "color": "#3a5cff", "opacity": 1},
   "encoding": {"x": {"field": "to", "type": "quantitative"}, "y": {"field": "date", "type": "temporal"}, "shape": {"condition": {"test": "datum.to < datum.from", "value": "M 1 -0.58 L 0 0 L 1 0.58"}, "value": "M -1 -0.58 L 0 0 L -1 0.58"}}}
 ]},
{"width": 239, "height": 354, "title": {"text": "Sunday", "frame": "group", "baseline": "bottom", "offset": -37},
 "layer": [
  {"data": {"name": "holidays"}, "mark": {"type": "rule", "color": "black", "strokeWidth": 1.2},
   "encoding": {"x": {"datum": 0.6, "type": "quantitative", "scale": {"domain": [0.6, 11.4], "nice": false, "zero": false},
      "axis": {"values": [1,2,3,4,5,6,7,8,9,10,11], "tickCount": 20, "labelExpr": "datum.value==1?'(2,0,0)':datum.value==4?'(1,0,1)':datum.value==7?'(2,1,0)':datum.value==10?'(1,1,1)':''", "title": "Group: (p,d,q)", "domain": false, "tickSize": 9, "offset": 2, "labelPadding": 13, "titlePadding": 20, "labelOverlap": false, "labelFlush": false}},
    "x2": {"datum": 11.72},
    "y": {"field": "date", "type": "temporal", "scale": {"type": "utc", "domain": [{"year": 2017, "month": 12, "date": 17, "hours": 12, "utc": true}, {"year": 2019, "month": 1, "date": 14, "hours": 12, "utc": true}]},
      "axis": {"values": [{"year":2018,"month":1,"date":1,"utc":true},{"year":2018,"month":2,"date":1,"utc":true},{"year":2018,"month":3,"date":1,"utc":true},{"year":2018,"month":4,"date":1,"utc":true},{"year":2018,"month":5,"date":1,"utc":true},{"year":2018,"month":6,"date":1,"utc":true},{"year":2018,"month":7,"date":1,"utc":true},{"year":2018,"month":8,"date":1,"utc":true},{"year":2018,"month":9,"date":1,"utc":true},{"year":2018,"month":10,"date":1,"utc":true},{"year":2018,"month":11,"date":1,"utc":true},{"year":2018,"month":12,"date":1,"utc":true},{"year":2018,"month":12,"date":31,"utc":true}], "tickCount": 40, "labelExpr": "(utcdate(datum.value)==1 && (utcmonth(datum.value)==0 || utcmonth(datum.value)==4 || utcmonth(datum.value)==8)) || utcdate(datum.value)==31 ? utcFormat(datum.value, '%Y-%m-%d') : ''", "labelAngle": 270, "labelAlign": "center", "labelBaseline": "bottom", "tickSize": 5, "labelPadding": 15, "domain": false, "title": "Day of Year", "titlePadding": 23, "labelOverlap": false, "labelFlush": false}}}},
  {"data": {"values": [{}]}, "mark": {"type": "rule", "color": "black", "strokeWidth": 1}, "encoding": {"x": {"datum": 5.5, "type": "quantitative"}}},
  {"data": {"name": "labels"}, "mark": {"type": "text", "angle": 270, "align": "center", "baseline": "top", "fontSize": 15, "color": "black", "font": "Liberation Sans"},
   "encoding": {"x": {"datum": 12.35, "type": "quantitative"}, "y": {"field": "date", "type": "temporal"}, "text": {"field": "label"}}},
  {"data": {"name": "dots"}, "transform": [{"filter": "datum.panel == 'Sunday'"}], "mark": {"type": "square", "size": 4, "color": "#6677ff", "opacity": 0.9},
   "encoding": {"x": {"field": "group", "type": "quantitative"}, "y": {"field": "date", "type": "temporal"}}},
  {"data": {"name": "arrows"}, "transform": [{"filter": "datum.panel == 'Sunday'"}], "mark": {"type": "rule", "color": "#3a5cff", "strokeWidth": 1.8},
   "encoding": {"x": {"field": "from", "type": "quantitative"}, "x2": {"field": "to"}, "y": {"field": "date", "type": "temporal"}}},
  {"data": {"name": "arrows"}, "transform": [{"filter": "datum.panel == 'Sunday'"}], "mark": {"type": "point", "filled": false, "size": 576, "strokeWidth": 1.8, "color": "#3a5cff", "opacity": 1},
   "encoding": {"x": {"field": "to", "type": "quantitative"}, "y": {"field": "date", "type": "temporal"}, "shape": {"condition": {"test": "datum.to < datum.from", "value": "M 1 -0.58 L 0 0 L 1 0.58"}, "value": "M -1 -0.58 L 0 0 L -1 0.58"}}}
 ]},
{"width": 239, "height": 354, "title": {"text": "Holidays", "frame": "group", "baseline": "bottom", "offset": -37},
 "layer": [
  {"data": {"name": "holidays"}, "mark": {"type": "rule", "color": "black", "strokeWidth": 1.2},
   "encoding": {"x": {"datum": 0.6, "type": "quantitative", "scale": {"domain": [0.6, 11.4], "nice": false, "zero": false},
      "axis": {"values": [1,2,3,4,5,6,7,8,9,10,11], "tickCount": 20, "labelExpr": "datum.value==1?'(2,0,0)':datum.value==4?'(1,0,1)':datum.value==7?'(2,1,0)':datum.value==10?'(1,1,1)':''", "title": "Group: (p,d,q)", "domain": false, "tickSize": 9, "offset": 2, "labelPadding": 13, "titlePadding": 20, "labelOverlap": false, "labelFlush": false}},
    "x2": {"datum": 11.72},
    "y": {"field": "date", "type": "temporal", "scale": {"type": "utc", "domain": [{"year": 2017, "month": 12, "date": 17, "hours": 12, "utc": true}, {"year": 2019, "month": 1, "date": 14, "hours": 12, "utc": true}]},
      "axis": {"values": [{"year":2018,"month":1,"date":1,"utc":true},{"year":2018,"month":2,"date":1,"utc":true},{"year":2018,"month":3,"date":1,"utc":true},{"year":2018,"month":4,"date":1,"utc":true},{"year":2018,"month":5,"date":1,"utc":true},{"year":2018,"month":6,"date":1,"utc":true},{"year":2018,"month":7,"date":1,"utc":true},{"year":2018,"month":8,"date":1,"utc":true},{"year":2018,"month":9,"date":1,"utc":true},{"year":2018,"month":10,"date":1,"utc":true},{"year":2018,"month":11,"date":1,"utc":true},{"year":2018,"month":12,"date":1,"utc":true},{"year":2018,"month":12,"date":31,"utc":true}], "tickCount": 40, "labelExpr": "(utcdate(datum.value)==1 && (utcmonth(datum.value)==0 || utcmonth(datum.value)==4 || utcmonth(datum.value)==8)) || utcdate(datum.value)==31 ? utcFormat(datum.value, '%Y-%m-%d') : ''", "labelAngle": 270, "labelAlign": "center", "labelBaseline": "bottom", "tickSize": 5, "labelPadding": 15, "domain": false, "title": "Day of Year", "titlePadding": 23, "labelOverlap": false, "labelFlush": false}}}},
  {"data": {"values": [{}]}, "mark": {"type": "rule", "color": "black", "strokeWidth": 1}, "encoding": {"x": {"datum": 5.5, "type": "quantitative"}}},
  {"data": {"name": "labels"}, "mark": {"type": "text", "angle": 270, "align": "center", "baseline": "top", "fontSize": 15, "color": "black", "font": "Liberation Sans"},
   "encoding": {"x": {"datum": 12.35, "type": "quantitative"}, "y": {"field": "date", "type": "temporal"}, "text": {"field": "label"}}},
  {"data": {"name": "dots"}, "transform": [{"filter": "datum.panel == 'Holidays'"}], "mark": {"type": "square", "size": 4, "color": "#6677ff", "opacity": 0.9},
   "encoding": {"x": {"field": "group", "type": "quantitative"}, "y": {"field": "date", "type": "temporal"}}},
  {"data": {"name": "arrows"}, "transform": [{"filter": "datum.panel == 'Holidays'"}], "mark": {"type": "rule", "color": "#3a5cff", "strokeWidth": 1.8},
   "encoding": {"x": {"field": "from", "type": "quantitative"}, "x2": {"field": "to"}, "y": {"field": "date", "type": "temporal"}}},
  {"data": {"name": "arrows"}, "transform": [{"filter": "datum.panel == 'Holidays'"}], "mark": {"type": "point", "filled": false, "size": 576, "strokeWidth": 1.8, "color": "#3a5cff", "opacity": 1},
   "encoding": {"x": {"field": "to", "type": "quantitative"}, "y": {"field": "date", "type": "temporal"}, "shape": {"condition": {"test": "datum.to < datum.from", "value": "M 1 -0.58 L 0 0 L 1 0.58"}, "value": "M -1 -0.58 L 0 0 L -1 0.58"}}}
 ]}
]
},
{
 "width": 1305, "height": 10,
 "view": {"stroke": null},
 "data": {"values": [{}]},
 "mark": {"type": "rule", "color": "#444444", "strokeWidth": 2},
 "encoding": {
  "x": {"datum": 1, "type": "quantitative", "scale": {"domain": [0.5628, 12.448], "nice": false, "zero": false},
   "axis": {"values": [1,2,3,4,5,6,7,8,9,10,11], "tickCount": 20, "labelExpr": "['(2,0,0)','(3,0,0)','(4,0,0)','(1,0,1)','(2,0,1)','(1,1,0)','(2,1,0)','(3,1,0)','(0,1,1)','(1,1,1)','(0,1,2)'][datum.value-1]", "title": "Group: (p,d,q)", "domain": false, "tickSize": 10, "labelPadding": 12, "titlePadding": 22, "labelFontSize": 15, "labelOverlap": false, "labelFlush": false}},
  "x2": {"datum": 11},
  "y": {"datum": 0, "type": "quantitative", "scale": {"domain": [0, 1]}, "axis": null}
 }
}
],
"spacing": 76
}
